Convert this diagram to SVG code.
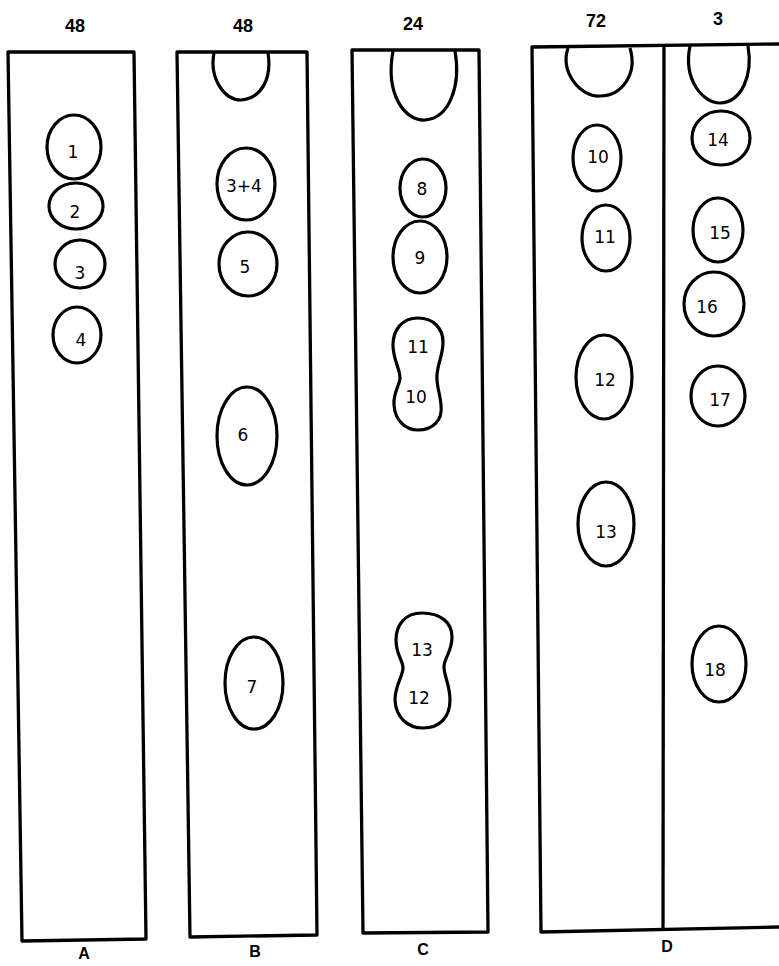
<svg xmlns="http://www.w3.org/2000/svg" width="779" height="966" viewBox="0 0 779 966">
<style>
.strip{fill:none;stroke:#000;stroke-width:3.3;stroke-linejoin:round}
.spot{fill:none;stroke:#000;stroke-width:3.2}
.hd{font-family:"Liberation Sans",Arial,sans-serif;font-weight:bold;font-size:18px;text-anchor:middle;fill:#000}
.ft{font-family:"Liberation Sans",Arial,sans-serif;font-weight:bold;font-size:16px;text-anchor:middle;fill:#000}
.lb{font-family:"DejaVu Sans",sans-serif;font-size:17px;text-anchor:middle;fill:#000}
</style>
<rect width="779" height="966" fill="#fff"/>
<g id="stripA">
<path class="strip" d="M8,52 L134,52 L146,939 L22,941 Z"/>
<text class="hd" x="75" y="32">48</text>
<text class="ft" x="84" y="959">A</text>
<ellipse class="spot" cx="74" cy="147" rx="27" ry="32"/><text class="lb" x="73" y="158">1</text>
<ellipse class="spot" cx="76" cy="206" rx="27" ry="23"/><text class="lb" x="75" y="218">2</text>
<ellipse class="spot" cx="80" cy="264" rx="25" ry="24"/><text class="lb" x="80" y="279">3</text>
<ellipse class="spot" cx="77" cy="335" rx="24" ry="28"/><text class="lb" x="81" y="346">4</text>
</g>
<g id="stripB">
<path class="strip" d="M177,52 L307,52 L317,935 L190,937 Z"/>
<text class="hd" x="243" y="32">48</text>
<text class="ft" x="255" y="957">B</text>
<path class="spot" d="M214,53 C209,78 224,100 241,100 C262,98 272,78 268,53"/>
<ellipse class="spot" cx="246" cy="184" rx="29" ry="36"/><text class="lb" x="244" y="192">3+4</text>
<ellipse class="spot" cx="248" cy="264" rx="29" ry="32"/><text class="lb" x="245" y="273">5</text>
<ellipse class="spot" cx="247" cy="436" rx="30" ry="49"/><text class="lb" x="243" y="441">6</text>
<ellipse class="spot" cx="254" cy="683" rx="29" ry="46"/><text class="lb" x="252" y="693">7</text>
</g>
<g id="stripC">
<path class="strip" d="M352,50 L479,50 L488,932 L363,933 Z"/>
<text class="hd" x="413" y="30">24</text>
<text class="ft" x="423" y="955">C</text>
<path class="spot" d="M393,51 C385,95 405,121 425,120 C450,118 461,85 455,51"/>
<ellipse class="spot" cx="423" cy="188" rx="23" ry="29"/><text class="lb" x="422" y="195">8</text>
<ellipse class="spot" cx="420" cy="257" rx="27" ry="36"/><text class="lb" x="420" y="264">9</text>
<path class="spot" d="M418,318 C402,318 393,330 393,345 C393,360 400,368 400,378 C400,385 393,392 394,405 C395,420 405,430 418,430 C433,430 443,420 441,405 C440,392 436,385 437,375 C438,362 443,355 443,342 C443,328 433,318 418,318 Z"/>
<text class="lb" x="418" y="353">11</text><text class="lb" x="416" y="403">10</text>
<path class="spot" d="M422,613 C405,613 396,625 396,640 C396,655 403,660 403,668 C403,676 395,685 395,700 C396,718 408,728 423,728 C440,728 450,717 450,700 C450,685 444,676 444,667 C444,658 452,652 452,637 C452,622 440,613 422,613 Z"/>
<text class="lb" x="422" y="656">13</text><text class="lb" x="419" y="704">12</text>
</g>
<g id="stripD">
<path class="strip" d="M779,44 L532,47 L541,932 L779,927"/>
<path class="strip" d="M664,45 L663,929"/>
<text class="hd" x="596" y="27">72</text>
<text class="hd" x="718" y="25">3</text>
<text class="ft" x="667" y="952">D</text>
<path class="spot" d="M568,48 C560,72 580,97 600,96 C621,96 638,75 630,48"/>
<path class="spot" d="M690,46 C683,80 703,103 720,103 C742,102 753,75 748,46"/>
<ellipse class="spot" cx="597" cy="158" rx="24" ry="33"/><text class="lb" x="598" y="163">10</text>
<ellipse class="spot" cx="606" cy="238" rx="24" ry="33"/><text class="lb" x="605" y="243">11</text>
<ellipse class="spot" cx="604" cy="377" rx="28" ry="42"/><text class="lb" x="605" y="386">12</text>
<ellipse class="spot" cx="606" cy="524" rx="28" ry="42"/><text class="lb" x="606" y="538">13</text>
<ellipse class="spot" cx="721" cy="138" rx="29" ry="27"/><text class="lb" x="718" y="146">14</text>
<ellipse class="spot" cx="718" cy="230" rx="25" ry="32"/><text class="lb" x="720" y="239">15</text>
<ellipse class="spot" cx="714" cy="304" rx="30" ry="32"/><text class="lb" x="707" y="313">16</text>
<ellipse class="spot" cx="718" cy="396" rx="27" ry="30"/><text class="lb" x="720" y="406">17</text>
<ellipse class="spot" cx="719" cy="664" rx="27" ry="38"/><text class="lb" x="715" y="676">18</text>
</g>
</svg>
